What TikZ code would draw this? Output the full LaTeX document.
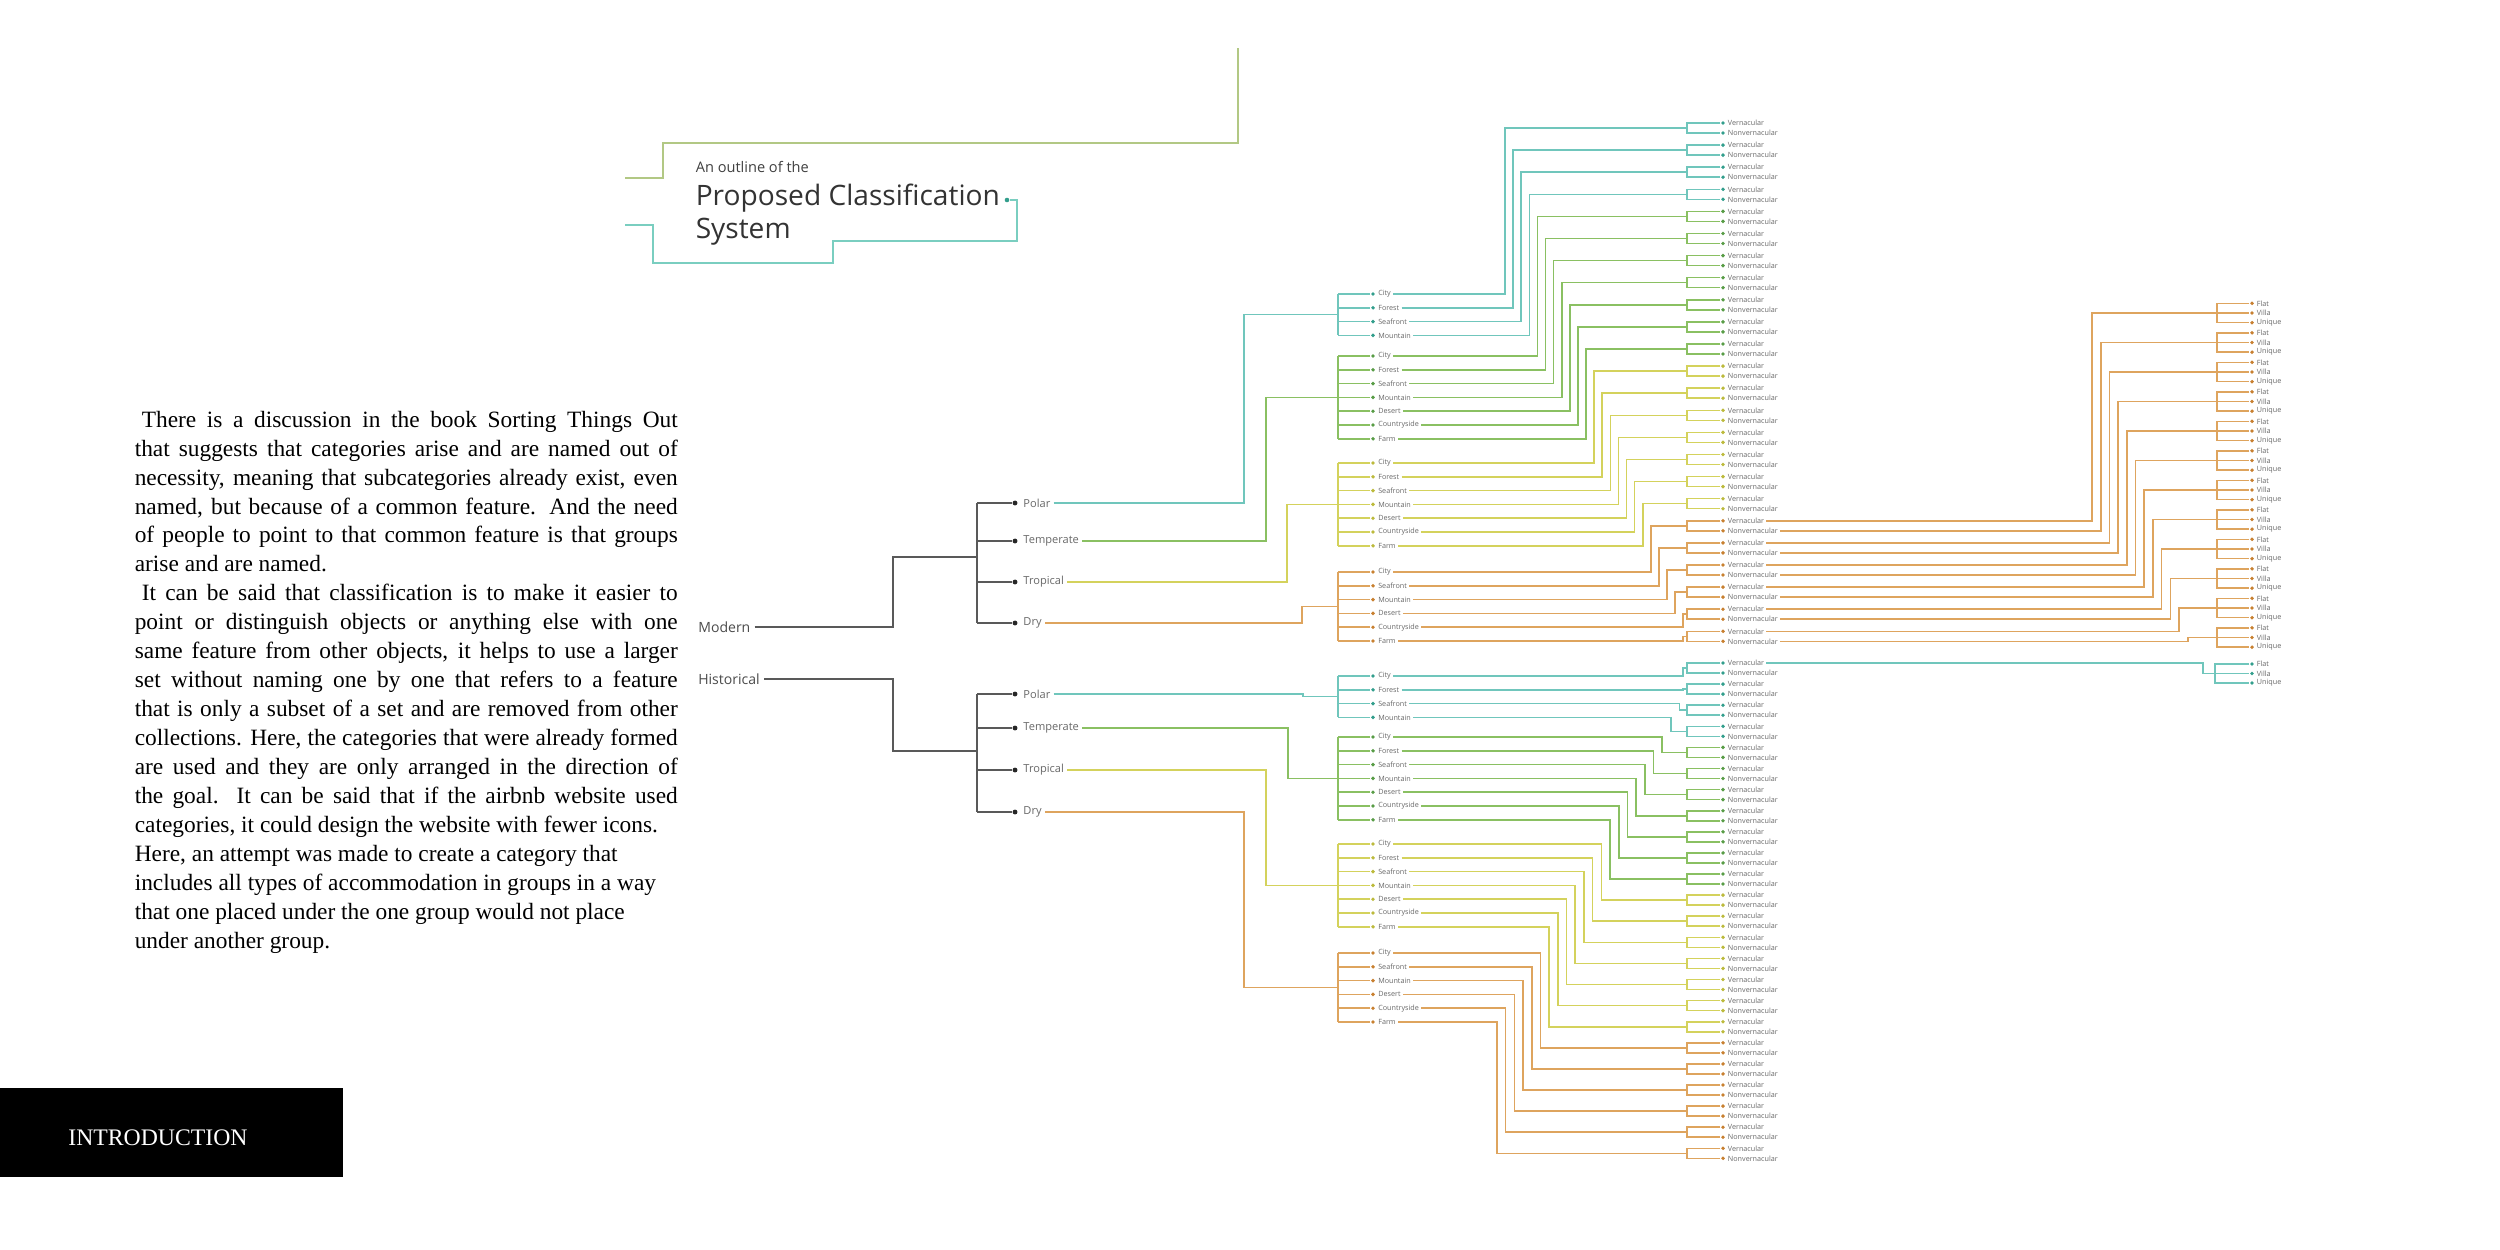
\documentclass[tikz,border=0pt]{standalone}
\usepackage{fontspec}
\setmainfont{Liberation Serif}
\setsansfont{Open Sans}
\usepackage{xcolor}
\usepackage{tikz}
\usetikzlibrary{positioning}

\definecolor{lnpol}{RGB}{112,198,188}
\definecolor{dtpol}{RGB}{50,158,140}
\definecolor{lntem}{RGB}{138,192,98}
\definecolor{dttem}{RGB}{88,156,70}
\definecolor{lntro}{RGB}{212,210,92}
\definecolor{dttro}{RGB}{188,186,60}
\definecolor{lndry}{RGB}{222,164,94}
\definecolor{dtdry}{RGB}{200,128,48}
\definecolor{frgreen}{RGB}{178,200,132}
\definecolor{frteal}{RGB}{122,206,192}
\definecolor{labgray}{RGB}{105,105,105}

\tikzset{cdot/.style={circle, fill=dt#1, inner sep=0pt, minimum size=2.2pt}}

\begin{document}
\begin{tikzpicture}[x=0.2mm, y=-0.2mm, line width=.9pt]
    \tikzstyle{tree}=[draw=black!65, line width=1.1pt]
    \tikzstyle{kdot}=[circle, fill=black!85, inner sep=0pt, minimum size=2.8pt]
    \tikzstyle{era}=[text=black!70, font=\sffamily\fontsize{8}{9}\selectfont, inner sep=2pt]
    \tikzstyle{clim}=[text=labgray, font=\sffamily\fontsize{6.3}{7}\selectfont, inner sep=1.5pt]
    \tikzstyle{land}=[text=labgray, font=\sffamily\fontsize{4.1}{5}\selectfont, inner sep=1pt]
    \tikzstyle{leaf}=[text=labgray, font=\sffamily\fontsize{4.1}{5}\selectfont, inner sep=.8pt]

    \useasboundingbox (0,0) rectangle (2500,1250);
    \fill[white] (0,0) rectangle (2500,1250);

    % title frame
    \draw[frgreen, line width=1.1pt] (1238,48) -- (1238,143) -- (663,143) -- (663,178) -- (625,178);
    \node[circle, fill=dtpol, inner sep=0pt, minimum size=2.6pt] (tdot) at (1007,200) {};
    \draw[frteal, line width=1.1pt] (tdot) -- (1017,200) -- (1017,241) -- (833,241) -- (833,263) -- (653,263) -- (653,225) -- (625,225);
    \node[anchor=base west, inner sep=0pt, text=black!75, font=\sffamily\fontsize{8.3}{9}\selectfont] (tsub) at (695,172) {An outline of the};
    \node[anchor=base west, inner sep=0pt, text=black!80, font=\sffamily\fontsize{16}{18}\selectfont] (ttop) at (695,205) {Proposed Classification};
    \node[anchor=base west, inner sep=0pt, text=black!80, font=\sffamily\fontsize{16}{18}\selectfont] (tbot) at (695,238) {System};

    % body text
    \node[anchor=north west, inner sep=0pt, text width=309pt, align=justify,
          font=\rmfamily\fontsize{13.3}{16.5}\selectfont] (intro) at (134,410) {\hyphenpenalty=10000
\hspace*{4pt}There is a discussion in the book Sorting Things Out\linebreak
that suggests that categories arise and are named out of\linebreak
necessity, meaning that subcategories already exist, even\linebreak
named, but because of a common feature. And the need\linebreak
of people to point to that common feature is that groups\linebreak
arise and are named.\par
\hspace*{4pt}It can be said that classification is to make it easier to\linebreak
point or distinguish objects or anything else with one\linebreak
same feature from other objects, it helps to use a larger\linebreak
set without naming one by one that refers to a feature\linebreak
that is only a subset of a set and are removed from other\linebreak
collections. Here, the categories that were already formed\linebreak
are used and they are only arranged in the direction of\linebreak
the goal. It can be said that if the airbnb website used\linebreak
categories, it could design the website with fewer icons.\newline
Here, an attempt was made to create a category that\newline
includes all types of accommodation in groups in a way\newline
that one placed under the one group would not place\newline
under another group.};

    \fill[black] (0,1088) rectangle (343,1177);
    \node[anchor=base, inner sep=0pt, text=white, font=\rmfamily\fontsize{13.5}{16}\selectfont] (introlab) at (158,1145) {INTRODUCTION};

    % eras
    \node[era, anchor=west] (modern) at (694,627) {Modern};
    \node[era, anchor=west] (hist) at (694,679) {Historical};
    \coordinate (mfork) at (977,557);
    \coordinate (hfork) at (977,751);
    \draw[tree] (modern.east) -| (893,557) -- (mfork);
    \draw[tree] (hist.east) -| (893,751) -- (hfork);

    % climates
    \foreach \cl/\lab/\y/\f in {mpol/Polar/503/mfork, mtem/Temperate/541/mfork, mtro/Tropical/582/mfork, mdry/Dry/623/mfork,
                                hpol/Polar/694/hfork, htem/Temperate/728/hfork, htro/Tropical/770/hfork, hdry/Dry/812/hfork} {
        \node[kdot] (\cl) at (1015,\y) {};
        \node[clim, right=1pt of \cl] (\cl-l) {\lab};
        \draw[tree] (\f |- \cl) -- (\cl);
    }
    \draw[tree] (mfork |- mpol) -- (mfork |- mdry);
    \draw[tree] (hfork |- hpol) -- (hfork |- hdry);

    % vernacular / nonvernacular pairs
    \foreach \e/\pa/\ps in {m/123/22.1, h/663/21.1} {
        \foreach \k in {0,...,23} {
            \ifnum\k<4 \def\col{pol}\else\ifnum\k<11 \def\col{tem}\else\ifnum\k<18 \def\col{tro}\else\def\col{dry}\fi\fi\fi
            \pgfmathsetmacro\vy{\pa+\ps*\k}
            \node[cdot=\col] (\e-\k-v) at (1723,\vy) {};
            \node[cdot=\col] (\e-\k-n) at (1723,\vy+10) {};
            \node[leaf, right=0pt of \e-\k-v] (\e-\k-vl) {Vernacular};
            \node[leaf, right=0pt of \e-\k-n] (\e-\k-nl) {Nonvernacular};
            \coordinate (\e-\k-b) at (1687,\vy+5);
            \draw[draw=ln\col] (\e-\k-v) -| (\e-\k-b) |- (\e-\k-n);
        }
    }

    % landscapes
    \foreach \e/\cl/\col/\tx/\gy/\k/\lst/\items in {
        m/mpol/pol/1244/294/0/3/{City,Forest,Seafront,Mountain},
        m/mtem/tem/1266/356/4/6/{City,Forest,Seafront,Mountain,Desert,Countryside,Farm},
        m/mtro/tro/1287/463/11/6/{City,Forest,Seafront,Mountain,Desert,Countryside,Farm},
        m/mdry/dry/1302/572/18/5/{City,Seafront,Mountain,Desert,Countryside,Farm},
        h/hpol/pol/1303/676/0/3/{City,Forest,Seafront,Mountain},
        h/htem/tem/1288/737/4/6/{City,Forest,Seafront,Mountain,Desert,Countryside,Farm},
        h/htro/tro/1266/844/11/6/{City,Forest,Seafront,Mountain,Desert,Countryside,Farm},
        h/hdry/dry/1244/953/18/5/{City,Seafront,Mountain,Desert,Countryside,Farm}} {
        \pgfmathsetmacro\gm{\gy+6.9*\lst}
        \coordinate (\cl-b) at (1338,\gm);
        \draw[draw=ln\col] (\cl-l.east) -| (\tx,\gm) -- (\cl-b);
        \foreach \w [count=\i from 0] in \items {
            \node[cdot=\col] (\cl-\i) at (1373,\gy+13.8*\i) {};
            \node[land, right=0pt of \cl-\i] (\cl-\i-l) {\w};
            \draw[draw=ln\col] (\cl-b |- \cl-\i) -- (\cl-\i);
            \pgfmathtruncatemacro\gk{\k+\i}
            \if m\e \pgfmathsetmacro\lx{min(1683,1505+8.1*\gk)}\else\pgfmathsetmacro\lx{min(1683,1697-8.7*\gk)}\fi
            \coordinate (\cl-\i-t) at (\lx,0);
            \draw[draw=ln\col] (\cl-\i-l.east) -| (\cl-\i-t |- \e-\gk-b) -- (\e-\gk-b);
        }
        \draw[draw=ln\col] (\cl-b |- \cl-0) -- (\cl-b |- \cl-\lst);
    }

    % flat / villa / unique
    \foreach \j in {0,...,11} {
        \pgfmathtruncatemacro\pk{18+int(\j/2)}
        \pgfmathsetmacro\uy{313+29.5*\j}
        \ifodd\j \def\src{m-\pk-nl}\else\def\src{m-\pk-vl}\fi
        \node[cdot=dry] (u\j-f) at (2252,\uy-9.7) {};
        \node[cdot=dry] (u\j-v) at (2252,\uy) {};
        \node[cdot=dry] (u\j-u) at (2252,\uy+9.7) {};
        \node[leaf, right=0pt of u\j-f] (u\j-fl) {Flat};
        \node[leaf, right=0pt of u\j-v] (u\j-vl) {Villa};
        \node[leaf, right=0pt of u\j-u] (u\j-ul) {Unique};
        \coordinate (u\j-b) at (2217,\uy);
        \coordinate (u\j-t) at (2092+8.7*\j,0);
        \draw[draw=lndry] (\src.east) -| (u\j-t |- u\j-b) -- (u\j-b);
        \draw[draw=lndry] (u\j-f) -| (u\j-b) |- (u\j-u);
        \draw[draw=lndry] (u\j-b) -- (u\j-v);
    }
    \node[cdot=pol] (t-f) at (2252,664) {};
    \node[cdot=pol] (t-v) at (2252,673.5) {};
    \node[cdot=pol] (t-u) at (2252,683) {};
    \node[leaf, right=0pt of t-f] (t-fl) {Flat};
    \node[leaf, right=0pt of t-v] (t-vl) {Villa};
    \node[leaf, right=0pt of t-u] (t-ul) {Unique};
    \coordinate (t-b) at (2215,673.5);
    \coordinate (t-t) at (2203,0);
    \draw[draw=lnpol] (h-0-vl.east) -| (t-t |- t-b) -- (t-b);
    \draw[draw=lnpol] (t-f) -| (t-b) |- (t-u);
    \draw[draw=lnpol] (t-b) -- (t-v);
\end{tikzpicture}
\end{document}
